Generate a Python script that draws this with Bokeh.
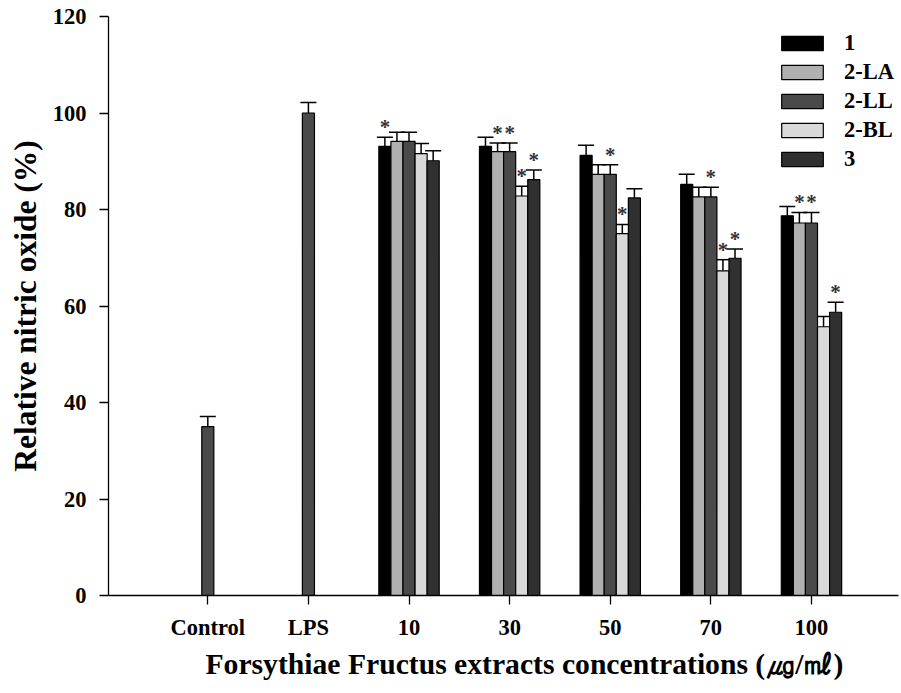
from bokeh.plotting import figure
from bokeh.models import (Range1d, FixedTicker, Whisker, TeeHead, ColumnDataSource,
                          Legend, LegendItem, Title)
from bokeh.embed import file_html
from bokeh.resources import INLINE
from bokeh.core.properties import value

# ---------------- data ----------------
categories = ["Control", "LPS", "10", "30", "50", "70", "100"]
conc_labels = ["10", "30", "50", "70", "100"]
series_names = ["1", "2-LA", "2-LL", "2-BL", "3"]
series_colors = ["#000000", "#b0b0b0", "#4a4a4a", "#d9d9d9", "#303030"]

control_mean = 35.0
control_err = 2.1
lps_mean = 100.0
lps_err = 2.2

s1_mean = [93.1, 93.1, 91.2, 85.2, 78.7]
s1_err = [1.9, 1.9, 2.1, 2.1, 1.9]
s1_star = [1, 0, 0, 0, 0]

s2la_mean = [94.1, 92.0, 87.3, 82.6, 77.2]
s2la_err = [1.9, 1.8, 2.0, 2.0, 2.2]
s2la_star = [0, 1, 0, 0, 1]

s2ll_mean = [94.1, 92.0, 87.3, 82.6, 77.2]
s2ll_err = [1.9, 1.8, 2.0, 2.0, 2.2]
s2ll_star = [0, 1, 1, 1, 1]

s2bl_mean = [91.6, 82.8, 75.0, 67.3, 55.7]
s2bl_err = [2.1, 2.0, 1.9, 2.3, 2.1]
s2bl_star = [0, 1, 1, 1, 0]

s3_mean = [90.1, 86.2, 82.4, 69.9, 58.7]
s3_err = [2.1, 2.0, 1.9, 1.9, 2.1]
s3_star = [0, 1, 0, 1, 1]

y_ticks = [0, 20, 40, 60, 80, 100, 120]

all_means = [s1_mean, s2la_mean, s2ll_mean, s2bl_mean, s3_mean]
all_errs = [s1_err, s2la_err, s2ll_err, s2bl_err, s3_err]
all_stars = [s1_star, s2la_star, s2ll_star, s2bl_star, s3_star]

# ---------------- figure ----------------
FONT = "Liberation Serif"
BAR_W = 0.12

cat_pos = list(range(1, len(categories) + 1))
conc_pos = cat_pos[2:]

p = figure(width=901, height=693, output_backend="svg", toolbar_location=None,
           x_range=Range1d(0.013, 7.865), y_range=Range1d(0, 120),
           min_border_left=108, min_border_right=3, min_border_top=16,
           min_border_bottom=98)
p.outline_line_color = None
p.xgrid.grid_line_color = None
p.ygrid.grid_line_color = None
p.background_fill_color = "white"

# Control / LPS bars
p.vbar(x=[cat_pos[0], cat_pos[1]], top=[control_mean, lps_mean], width=BAR_W,
       fill_color="#4a4a4a", line_color="black", line_width=1.2)
ctrl_src = ColumnDataSource(dict(x=[cat_pos[0], cat_pos[1]],
                                 lower=[control_mean, lps_mean],
                                 upper=[control_mean + control_err, lps_mean + lps_err]))
p.add_layout(Whisker(source=ctrl_src, base="x", lower="lower", upper="upper",
                     dimension="height", line_width=1.5, line_color="black",
                     lower_head=None,
                     upper_head=TeeHead(size=16, line_width=1.5, line_color="black")))

legend_items = []
star_x, star_y = [], []
for j, name in enumerate(series_names):
    off = (j - 2) * BAR_W
    xs = [c + off for c in conc_pos]
    means = all_means[j]
    errs = all_errs[j]
    r = p.vbar(x=xs, top=means, width=BAR_W, fill_color=series_colors[j],
               line_color="black", line_width=1.2)
    legend_items.append(LegendItem(label=name, renderers=[r]))
    src = ColumnDataSource(dict(x=xs, lower=means,
                                upper=[m + e for m, e in zip(means, errs)]))
    p.add_layout(Whisker(source=src, base="x", lower="lower", upper="upper",
                         dimension="height", line_width=1.5, line_color="black",
                         lower_head=None,
                         upper_head=TeeHead(size=16, line_width=1.5, line_color="black")))
    for k, flag in enumerate(all_stars[j]):
        if flag:
            star_x.append(xs[k])
            star_y.append(means[k] + errs[k])

p.text(x=star_x, y=star_y, text=["*"] * len(star_x), text_font=value(FONT),
       text_font_style="bold", text_font_size="21px", text_color="#333333",
       text_align="center", text_baseline="middle", y_offset=-10)

# axes
for ax in (p.xaxis[0], p.yaxis[0]):
    ax.axis_line_color = "black"
    ax.axis_line_width = 1.3
    ax.major_tick_line_color = "black"
    ax.major_tick_line_width = 1.3
    ax.major_tick_in = 0
    ax.major_tick_out = 9
    ax.minor_tick_line_color = None
    ax.major_label_text_font = FONT
    ax.major_label_text_font_style = "bold"
    ax.major_label_text_font_size = "22.5px"
    ax.major_label_text_color = "black"
    ax.major_label_standoff = 10
p.yaxis.major_label_standoff = 13

p.xaxis.ticker = FixedTicker(ticks=cat_pos)
p.xaxis.major_label_overrides = {pos: lab for pos, lab in zip(cat_pos, categories)}
p.yaxis.ticker = FixedTicker(ticks=y_ticks)

p.yaxis.axis_label = "Relative nitric oxide (%)"
p.yaxis.axis_label_text_font = FONT
p.yaxis.axis_label_text_font_style = "bold"
p.yaxis.axis_label_text_font_size = "31.5px"
p.yaxis.axis_label_text_color = "black"
p.yaxis.axis_label_standoff = 7

xt = Title(text="Forsythiae Fructus extracts concentrations (㎍/㎖)", align="left",
           offset=97, text_font=FONT, text_font_style="bold", text_font_size="29.65px",
           text_color="black", standoff=7)
p.add_layout(xt, "below")

legend = Legend(items=legend_items, location=(668, 423), orientation="vertical",
                border_line_color=None, background_fill_alpha=0, padding=0, margin=0,
                spacing=3, glyph_width=52, glyph_height=18, label_height=25,
                label_standoff=16, label_text_font=FONT, label_text_font_style="bold",
                label_text_font_size="22.5px", label_text_color="black")
p.add_layout(legend)

open("out.html", "w").write(file_html(p, INLINE))
